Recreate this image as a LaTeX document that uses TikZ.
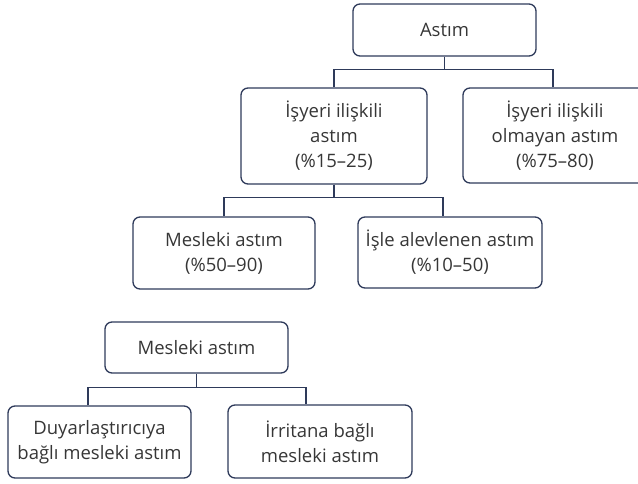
\documentclass[tikz,border=0pt]{standalone}
\usepackage{fontspec}
\setmainfont{Open Sans}
\definecolor{edge}{HTML}{2E3A5A}
\definecolor{ink}{HTML}{363636}
\begin{document}
\begin{tikzpicture}[x=1pt,y=-1pt,
  box/.style={draw=edge, line width=1.3pt, rounded corners=7pt, align=center,
    text=ink, font=\fontsize{18.5}{25}\selectfont, inner sep=0pt},
  link/.style={draw=edge, line width=1.3pt}]
\useasboundingbox (0,0) rectangle (638,483);
\clip (0,0) rectangle (638,483);

% upper tree
\node[box, minimum width=183pt, minimum height=52pt] (astim) at (444.5,30) {Astım};
\node[box, minimum width=186pt, minimum height=96pt] (isy) at (334,136) {İşyeri ilişkili\\astım\\(\%15–25)};
\node[box, minimum width=184pt, minimum height=95pt] (nonisy) at (555,135.5) {İşyeri ilişkili\\olmayan astım\\(\%75–80)};
\node[box, minimum width=182pt, minimum height=72pt] (mes) at (224,253) {Mesleki astım\\(\%50–90)};
\node[box, minimum width=184pt, minimum height=71pt] (isle) at (450,252.5) {İşle alevlenen astım\\(\%10–50)};

\draw[link] (astim.south) -- ++(0,13) coordinate (j1);
\draw[link] (isy.north) |- (j1) -| ([xshift=-2pt]nonisy.north);
\draw[link] (isy.south) -- ++(0,13) coordinate (j2);
\draw[link] (mes.north) |- (j2) -| ([xshift=-7pt]isle.north);

% lower tree
\node[box, minimum width=183pt, minimum height=51pt] (mes2) at (196.5,347.5) {Mesleki astım};
\node[box, minimum width=183pt, minimum height=72pt] (duy) at (99.5,442) {Duyarlaştırıcıya\\bağlı mesleki astım};
\node[box, minimum width=184pt, minimum height=73pt] (irr) at (320,441.5) {İrritana bağlı\\mesleki astım};

\draw[link] (mes2.south) -- ++(0,14) coordinate (j3);
\draw[link] ([xshift=-11.5pt]duy.north) |- (j3) -| ([xshift=-14pt]irr.north);
\end{tikzpicture}
\end{document}
